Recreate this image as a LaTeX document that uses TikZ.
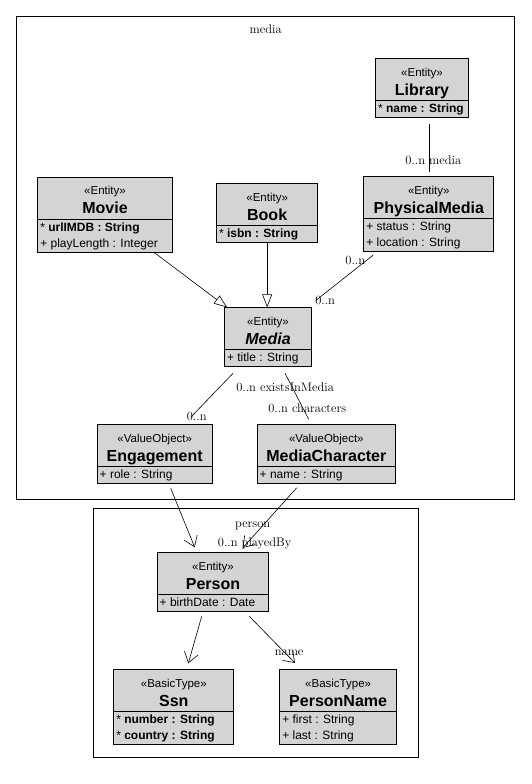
\documentclass[tikz,border=0pt]{standalone}
\usepackage{fontspec}
\newfontfamily\umlfont{Liberation Sans}
\usetikzlibrary{shapes.multipart, arrows.meta, positioning}

\definecolor{classgray}{RGB}{212,212,212}

\newcommand{\stereofont}{\umlfont\fontsize{11.5}{13}\selectfont}
\newcommand{\titlefont}{\umlfont\bfseries\fontsize{16}{18}\selectfont}
\newcommand{\attrfont}{\umlfont\fontsize{12}{14}\selectfont}
\newcommand{\umlhead}[2]{{\renewcommand{\arraystretch}{0}%
  \begin{tabular}{@{}c@{}}\rule[-3pt]{0pt}{20pt}{\stereofont «#1»}\\
  \rule[-5pt]{0pt}{21pt}{\titlefont #2}\end{tabular}}}
\newcommand{\umlattrs}[1]{{\renewcommand{\arraystretch}{0}\attrfont
  \begin{tabular}{@{}l@{}}#1\end{tabular}}}
\newcommand{\attrline}[1]{\rule[-4.5pt]{0pt}{16pt}#1}

\tikzset{
  umlclass/.style={rectangle split, rectangle split parts=2, draw, line width=1pt,
    fill=classgray, rectangle split part align={center,left},
    inner xsep=2.5pt, inner ysep=0pt, anchor=north west},
  pkg/.style={draw, line width=1pt, inner sep=0pt, anchor=north west},
  lbl/.style={font=\fontsize{12.5}{14}\selectfont, inner sep=1pt},
  assoc/.style={line width=0.6pt},
  gen/.style={assoc, -{Triangle[open, length=13pt, width=10pt]}},
  nav/.style={assoc, -{Straight Barb[length=10pt, width=14pt]}}
}

\begin{document}
\begin{tikzpicture}[x=1pt, y=-1pt]
\useasboundingbox (0,0) rectangle (531,784);

% packages
\node[pkg, minimum width=498.3pt, minimum height=483.6pt] (mediapkg) at (16,15.7) {};
\node[lbl, anchor=base] (medialbl) at ([yshift=-17.6pt]mediapkg.north) {media};
\node[pkg, minimum width=325.4pt, minimum height=249pt] (personpkg) at (92.5,508.3) {};
\node[lbl, anchor=base] (personlbl) at ([xshift=-3pt,yshift=-18.8pt]personpkg.north) {person};

% classes
\node[umlclass, minimum width=93pt] (library) at (375,58.3)
  {\umlhead{Entity}{Library}\nodepart{two}\umlattrs{\attrline{* \textbf{name : String}}}};
\node[umlclass, minimum width=130pt] (physmedia) at (363.3,176)
  {\umlhead{Entity}{PhysicalMedia}\nodepart{two}\umlattrs{\attrline{+ status : String}\\\attrline{+ location : String}}};
\node[umlclass, minimum width=134.4pt] (movie) at (37.3,176.5)
  {\umlhead{Entity}{Movie}\nodepart{two}\umlattrs{\attrline{* \textbf{urlIMDB : String}}\\\attrline{+ playLength : Integer}}};
\node[umlclass, minimum width=101.3pt] (book) at (216,183.3)
  {\umlhead{Entity}{Book}\nodepart{two}\umlattrs{\attrline{* \textbf{isbn : String}}}};
\node[umlclass, minimum width=87pt] (media) at (224,307.3)
  {\umlhead{Entity}{\itshape Media}\nodepart{two}\umlattrs{\attrline{+ title : String}}};
\node[umlclass, minimum width=115pt] (engagement) at (96.7,424.3)
  {\umlhead{ValueObject}{Engagement}\nodepart{two}\umlattrs{\attrline{+ role : String}}};
\node[umlclass, minimum width=138.3pt] (mediachar) at (256.7,424.3)
  {\umlhead{ValueObject}{MediaCharacter}\nodepart{two}\umlattrs{\attrline{+ name : String}}};
\node[umlclass, minimum width=111.6pt] (person) at (156.7,552.3)
  {\umlhead{Entity}{Person}\nodepart{two}\umlattrs{\attrline{+ birthDate : Date}}};
\node[umlclass, minimum width=120pt] (ssn) at (113.3,669.3)
  {\umlhead{BasicType}{Ssn}\nodepart{two}\umlattrs{\attrline{* \textbf{number : String}}\\\attrline{* \textbf{country : String}}}};
\node[umlclass, minimum width=116.7pt] (personname) at (279.3,669.3)
  {\umlhead{BasicType}{PersonName}\nodepart{two}\umlattrs{\attrline{+ first : String}\\\attrline{+ last : String}}};

% connectors
\draw[assoc, shorten <=6pt, shorten >=4pt] (physmedia.north |- library.south) -- (physmedia.north)
  node[lbl, pos=0.72, xshift=4.5pt] {0..n media};
\draw[gen] ([xshift=-18.5pt]movie.south east) -- ([xshift=3pt]media.north west);
\draw[gen] (book.south) -- (book.south |- media.north);
\draw[assoc] ([xshift=10pt,yshift=-3pt]physmedia.south west) -- ([xshift=4pt,yshift=7pt]media.north east)
  node[lbl, pos=0.12, left] {0..n}
  node[lbl, pos=1, right, xshift=-2pt] {0..n};
\draw[assoc] ([xshift=9pt,yshift=-6pt]media.south west) -- ([xshift=-22pt,yshift=7pt]engagement.north east)
  node[lbl, pos=1, xshift=6pt, yshift=1pt] {0..n};
\draw[assoc] ([xshift=-27pt,yshift=-6pt]media.south east) -- ([xshift=52pt,yshift=5pt]mediachar.north west)
  node[lbl, pos=0.3, xshift=-7pt] {0..n existsInMedia}
  node[lbl, pos=0.75, xshift=4.5pt] {0..n characters};
\draw[nav] ([xshift=-42pt,yshift=-4pt]engagement.south east) -- ([xshift=38pt,yshift=5pt]person.north west);
\draw[nav] ([xshift=40pt,yshift=-3.5pt]mediachar.south west) -- ([xshift=-26.5pt,yshift=4.5pt]person.north east)
  node[lbl, pos=0.93, xshift=8pt] {0..n playedBy};
\draw[nav] ([xshift=45pt,yshift=-4pt]person.south west) -- ([xshift=75pt,yshift=6pt]ssn.north west);
\draw[nav] ([xshift=-20pt,yshift=-4pt]person.south east) -- ([xshift=15.7pt,yshift=6.3pt]personname.north west)
  node[lbl, pos=0.79, xshift=3.7pt] {name};
\end{tikzpicture}
\end{document}
